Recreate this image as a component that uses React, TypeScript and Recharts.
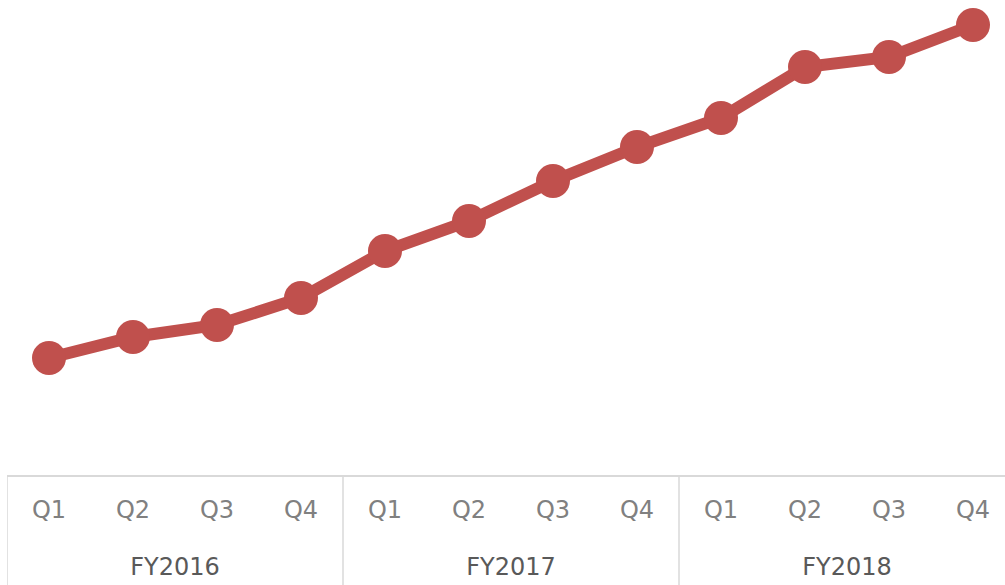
import { Line, LineChart, XAxis, YAxis } from "recharts";

const quarters = ["Q1", "Q2", "Q3", "Q4", "Q1", "Q2", "Q3", "Q4", "Q1", "Q2", "Q3", "Q4"];
const years = ["FY2016", "FY2016", "FY2016", "FY2016", "FY2017", "FY2017", "FY2017", "FY2017", "FY2018", "FY2018", "FY2018", "FY2018"];
const values = [118, 139, 151, 178, 225, 255, 295, 329, 358, 409, 419, 451];

const data = quarters.map((q, i) => ({ key: `${years[i]}-${q}`, quarter: q, year: years[i], value: values[i] }));

const BAND = 84;

function QuarterTick(props: any) {
  const { x, y, index } = props;
  const d = data[index];
  if (!d) return null;
  const top = y - 8;
  const first = index % 4 === 0;
  return (
    <g>
      <text x={x} y={top + 34} textAnchor="middle" dominantBaseline="central" fontSize={24} fill="#808080">
        {d.quarter}
      </text>
      {first && (
        <>
          <line x1={x - BAND / 2} x2={x - BAND / 2} y1={top} y2={top + 110} stroke="#d9d9d9" strokeWidth={1.5} />
          <text x={x + BAND * 1.5} y={top + 91} textAnchor="middle" dominantBaseline="central" fontSize={24} fill="#595959">
            {d.year}
          </text>
        </>
      )}
      {index === data.length - 1 && (
        <line x1={x + BAND / 2} x2={x + BAND / 2} y1={top} y2={top + 110} stroke="#d9d9d9" strokeWidth={1.5} />
      )}
    </g>
  );
}

export default function App() {
  return (
    <div style={{ position: "absolute", left: 7, top: 0, fontFamily: "'DejaVu Sans', Verdana, sans-serif" }}>
      <LineChart width={1008} height={585} data={data} margin={{ top: 0, right: 0, left: 0, bottom: 0 }}>
        <XAxis
          dataKey="key"
          interval={0}
          height={109}
          padding={{ left: BAND / 2, right: BAND / 2 }}
          axisLine={{ stroke: "#d9d9d9", strokeWidth: 2 }}
          tickLine={false}
          tick={<QuarterTick />}
        />
        <YAxis hide domain={[0, 476]} />
        <Line
          type="linear"
          dataKey="value"
          stroke="#C0504D"
          strokeWidth={12}
          dot={{ r: 17, fill: "#C0504D", stroke: "none" }}
          activeDot={false}
          isAnimationActive={false}
        />
      </LineChart>
    </div>
  );
}
